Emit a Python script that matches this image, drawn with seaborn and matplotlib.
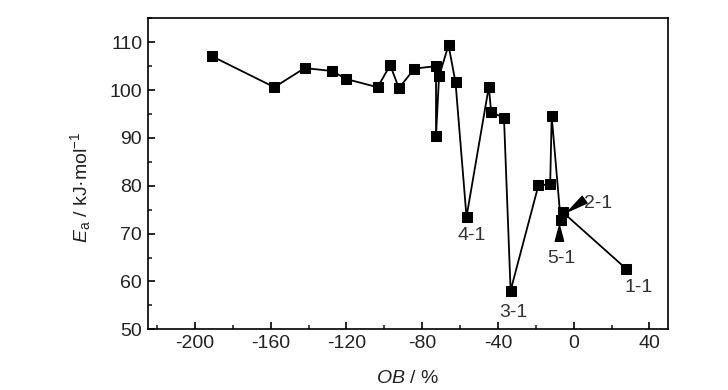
import matplotlib
matplotlib.use("Agg")
import matplotlib.pyplot as plt
import seaborn as sns
import pandas as pd
from matplotlib.ticker import MultipleLocator

# Data (OB %, Ea kJ/mol), in drawing order
ob = [-191.2, -158.1, -142.1, -127.8, -120.0, -103.6, -96.9, -92.3, -84.1,
      -72.7, -72.7, -71.1, -66.1, -62.4, -56.6, -44.8, -43.6, -36.8, -33.3,
      -18.6, -12.4, -11.6, -6.9, -5.8, 27.6]
ea = [107.1, 100.6, 104.6, 104.0, 102.3, 100.6, 105.2, 100.4, 104.5,
      105.0, 90.5, 102.9, 109.4, 101.6, 73.5, 100.7, 95.4, 94.2, 58.1,
      80.1, 80.3, 94.6, 72.9, 74.5, 62.7]

labels = ["4-1", "3-1", "5-1", "2-1", "1-1"]
label_pos = [(-53.8, 69.6), (-32.0, 53.5), (-6.6, 64.8), (12.8, 76.3), (34.2, 58.7)]

sns.set_theme(style="ticks")
plt.rcParams['font.family'] = ['Liberation Sans', 'DejaVu Sans']
plt.rcParams['mathtext.fontset'] = 'custom'
plt.rcParams['mathtext.rm'] = 'Liberation Sans'
plt.rcParams['mathtext.it'] = 'Liberation Sans:italic'
plt.rcParams['axes.unicode_minus'] = False

fig = plt.figure(figsize=(7.28, 3.90), dpi=100)
ax = fig.add_axes([0.2029, 0.1556, 0.918 - 0.2029, 0.953 - 0.1556])

df = pd.DataFrame({"OB": ob, "Ea": ea})
sns.lineplot(data=df, x="OB", y="Ea", sort=False, estimator=None, ax=ax,
             color="black", linewidth=1.3, marker="s", markersize=6.5,
             markeredgecolor="black", markerfacecolor="black")

ax.set_xlim(-225, 50)
ax.set_ylim(50, 115)
ax.xaxis.set_minor_locator(MultipleLocator(20))
ax.yaxis.set_minor_locator(MultipleLocator(5))
ax.set_xticks(range(-200, 41, 40))
ax.set_yticks(range(50, 111, 10))
ax.tick_params(axis="both", which="major", direction="in", length=5, width=1.2,
               labelsize=14, colors="black", labelcolor="#222222", pad=4)
ax.tick_params(axis="both", which="minor", direction="in", length=3, width=1.2)
ax.tick_params(top=False, right=False, which="both")
for s in ax.spines.values():
    s.set_linewidth(1.2)
    s.set_color("black")

ax.set_xlabel(r"$OB$ / %", fontsize=14, color="#222222")
ax.set_ylabel(r"$E_{\rm a}$ / kJ·mol$^{-1}$", fontsize=14, color="#222222")
ax.xaxis.set_label_coords(0.5, -0.13)
ax.yaxis.set_label_coords(-0.106, 0.457)

# annotations
txt_kw = dict(fontsize=14, color="#333333", ha="center", va="center")
for lab, (tx, ty) in zip(labels, label_pos):
    ax.text(tx, ty, lab, **txt_kw)

wedge = dict(arrowstyle="wedge,tail_width=0.3", color="black",
             shrinkA=0, shrinkB=0, mutation_scale=20)
# 5-1 arrow (from below, pointing up)
ax.annotate("", xy=(-7.5, 71.7), xytext=(-7.5, 68.4), arrowprops=wedge)
# 2-1 arrow (from right, pointing to point)
ax.annotate("", xy=(-3.0, 74.6), xytext=(5.8, 77.1), arrowprops=wedge)

fig.savefig("out.png", dpi=100)
